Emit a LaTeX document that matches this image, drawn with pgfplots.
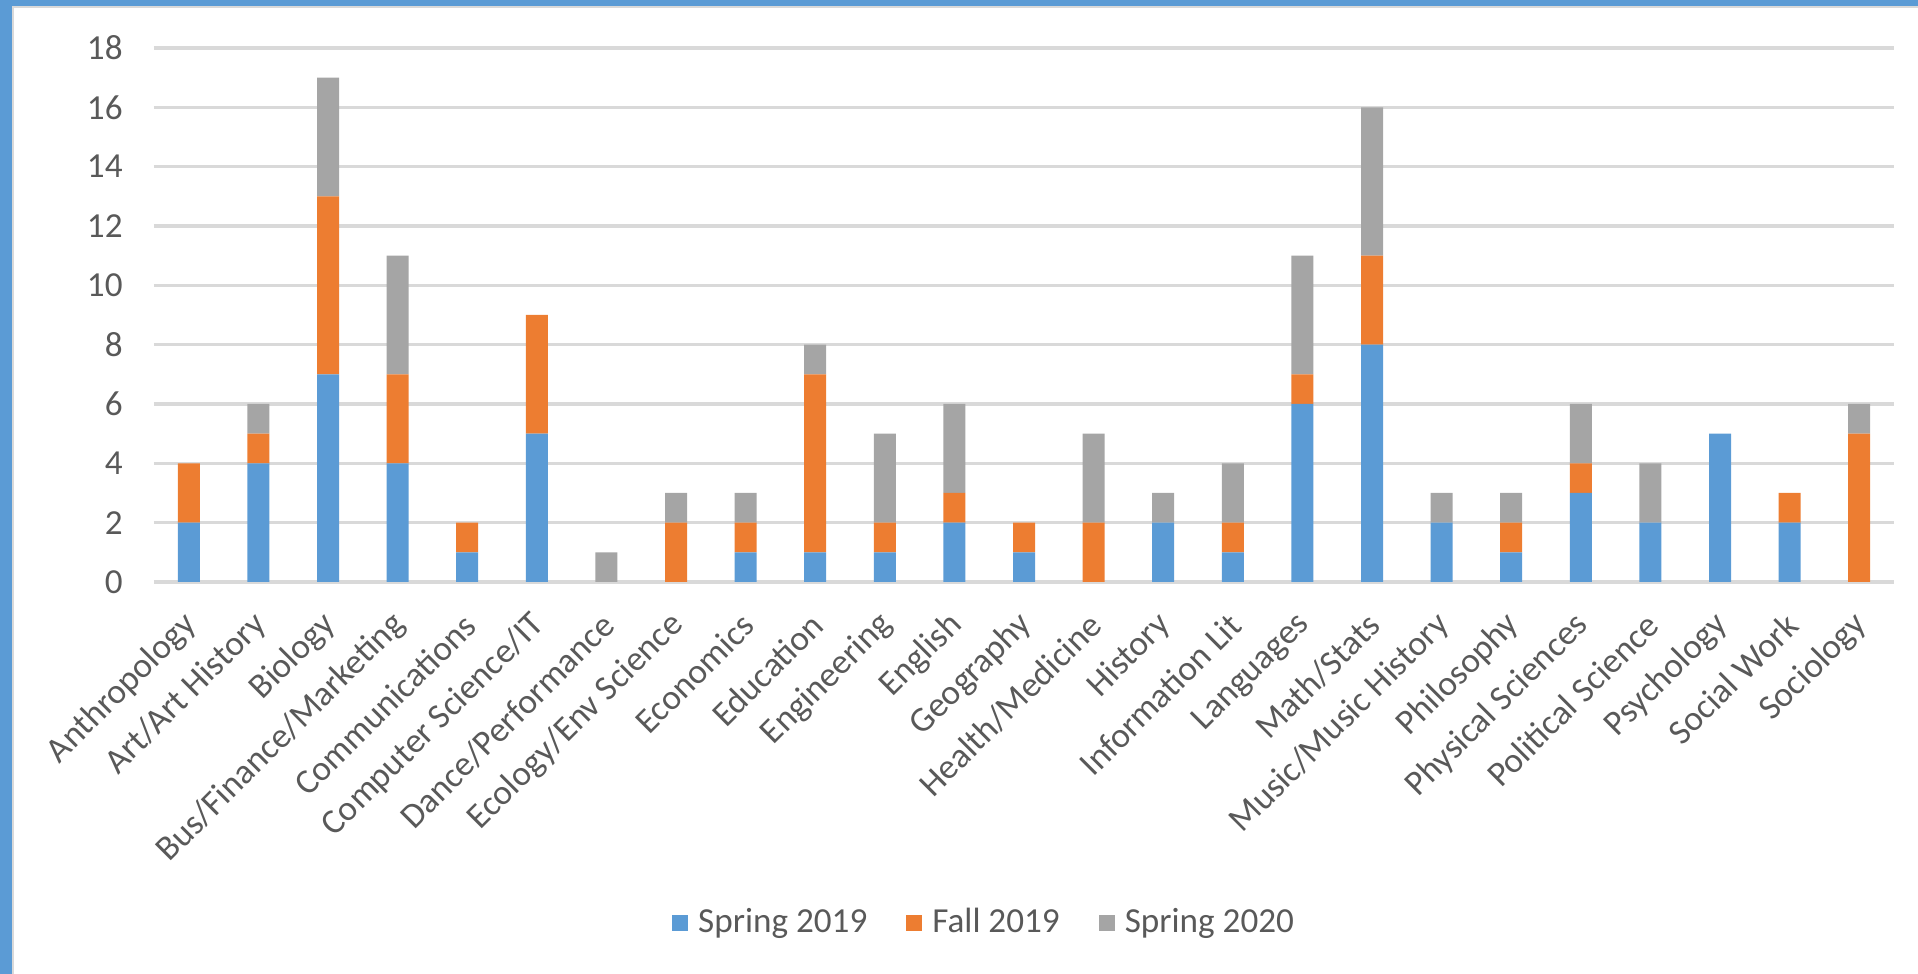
\documentclass[border=0pt]{standalone}
\usepackage{pgfplots}
\pgfplotsset{compat=1.18}
\usepackage{pgfplotstable}
\usepackage{fontspec}
\setmainfont{Carlito}

\definecolor{sp19}{HTML}{5B9BD5}
\definecolor{fa19}{HTML}{ED7D31}
\definecolor{sp20}{HTML}{A5A5A5}
\definecolor{gridgray}{HTML}{D9D9D9}
\definecolor{txtgray}{HTML}{595959}
\definecolor{frameblue}{HTML}{5B9BD5}

% idx  spring19  fall19  spring20
\pgfplotstableread{
x s19 f19 s20
0  2 2 0
1  4 1 1
2  7 6 4
3  4 3 4
4  1 1 0
5  5 4 0
6  0 0 1
7  0 2 1
8  1 1 1
9  1 6 1
10 1 1 3
11 2 1 3
12 1 1 0
13 0 2 3
14 2 0 1
15 1 1 2
16 6 1 4
17 8 3 5
18 2 0 1
19 1 1 1
20 3 1 2
21 2 0 2
22 5 0 0
23 2 1 0
24 0 5 1
}\majors

\begin{document}
\begin{tikzpicture}
\useasboundingbox (0,0) rectangle (19.18,9.74);
% window frame
\fill[frameblue] (0,0) rectangle (0.12,9.74);
\fill[frameblue] (0,9.68) rectangle (19.18,9.74);
\fill[gridgray] (0.12,0) rectangle (0.14,9.68);
\fill[gridgray] (0.12,9.66) rectangle (19.18,9.68);

\begin{axis}[
  at={(1.54cm,3.92cm)}, anchor=south west,
  scale only axis, width=17.4cm, height=5.34cm,
  ybar stacked, bar width=0.22cm,
  xmin=-0.5, xmax=24.5, ymin=0, ymax=18,
  ytick={0,2,...,18},
  xtick={0,...,24},
  xticklabels={Anthropology, Art/Art History, Biology, Bus/Finance/Marketing,
    Communications, Computer Science/IT, Dance/Performance, Ecology/Env Science,
    Economics, Education, Engineering, English, Geography, Health/Medicine,
    History, Information Lit, Languages, Math/Stats, Music/Music History,
    Philosophy, Physical Sciences, Political Science, Psychology, Social Work,
    Sociology},
  axis lines*=left, axis line style={draw=none},
  major tick length=0pt,
  ymajorgrids, grid style={gridgray, line width=1pt},
  /pgf/number format/assume math mode=true,
  tick label style={font=\fontsize{10}{12}\selectfont, text=txtgray},
  yticklabel style={xshift=-0.19cm},
  xticklabel style={anchor=east, xshift=0.11cm, yshift=-0.29cm, rotate=45},
  legend style={at={(0.4785,-0.638)}, anchor=center, draw=none,
    legend columns=3, font=\fontsize{10}{12}\selectfont, text=txtgray,
    /tikz/every even column/.append style={column sep=0.32cm}},
  legend image code/.code={\fill[#1] (0cm,-0.08cm) rectangle (0.16cm,0.08cm);
    \path (0.19cm,0cm);},
]
\addplot[fill=sp19, draw=none] table[x=x, y=s19] {\majors};
\addplot[fill=fa19, draw=none] table[x=x, y=f19] {\majors};
\addplot[fill=sp20, draw=none] table[x=x, y=s20] {\majors};
\legend{Spring 2019, Fall 2019, Spring 2020}
\end{axis}
\end{tikzpicture}
\end{document}
